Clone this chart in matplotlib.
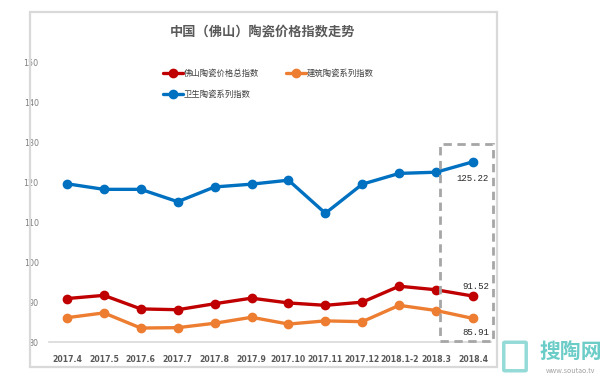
import numpy as np
import matplotlib
matplotlib.use('Agg')
import matplotlib.pyplot as plt
from matplotlib.patches import Rectangle, FancyBboxPatch

plt.rcParams['font.family'] = ['Noto Sans CJK SC', 'DejaVu Sans']

# data
months = ['2017.4', '2017.5', '2017.6', '2017.7', '2017.8', '2017.9',
          '2017.10', '2017.11', '2017.12', '2018.1-2', '2018.3', '2018.4']
total_idx = [90.9, 91.7, 88.3, 88.1, 89.6, 91.0, 89.8, 89.2, 90.0, 94.0, 93.1, 91.52]
build_idx = [86.1, 87.3, 83.5, 83.6, 84.7, 86.2, 84.5, 85.3, 85.1, 89.2, 87.9, 85.91]
sanit_idx = [119.7, 118.3, 118.3, 115.2, 118.9, 119.6, 120.6, 112.3, 119.6, 122.3, 122.6, 125.22]
yticks = [80, 90, 100, 110, 120, 130, 140, 150]

W, H = 613, 379
fig = plt.figure(figsize=(W / 100, H / 100), dpi=100)
fig.patch.set_facecolor('white')

# chart border
fig.patches.append(Rectangle((30 / W, 1 - 367 / H), 467 / W, 355 / H,
                             transform=fig.transFigure, fill=False,
                             edgecolor='#D9D9D9', lw=1.6))

ax = fig.add_axes([48.5 / W, 1 - 342 / H, 443 / W, 279 / H])
x = np.arange(len(months))
lines = {}
series = [('total', total_idx, '#C00000', '佛山陶瓷价格总指数'),
          ('build', build_idx, '#ED7D31', '建筑陶瓷系列指数'),
          ('sanit', sanit_idx, '#0070C0', '卫生陶瓷系列指数')]
for key, vals, col, lab in series:
    lines[key], = ax.plot(x, vals, color=col, lw=2.4, marker='o', ms=6, label=lab,
                          solid_capstyle='round')

ax.set_xlim(-0.5, len(months) - 0.5)
ax.set_ylim(80, 150)
ax.set_yticks(yticks)
ax.set_xticks(x)
narrow = ['Liberation Sans Narrow', 'DejaVu Sans']
ax.set_xticklabels(months, fontsize=5.6, fontweight='bold', color='#595959', family=narrow)
ax.set_yticklabels([str(v) for v in yticks], fontsize=5.8, color='#808080', family=narrow)
ax.tick_params(length=0)
ax.tick_params(axis='x', pad=9)
ax.tick_params(axis='y', pad=7)
for s in ['top', 'right', 'left']:
    ax.spines[s].set_visible(False)
ax.spines['bottom'].set_color('#D9D9D9')
ax.spines['bottom'].set_linewidth(1.2)

# value labels for the last month
lab_font = dict(fontsize=6.5, color='#262626', family=['Liberation Mono', 'DejaVu Sans Mono'])
ax.annotate('125.22', (11, sanit_idx[-1]), xytext=(11, -12), textcoords='offset points',
            ha='right', va='center', **lab_font)
ax.annotate('91.52', (11, total_idx[-1]), xytext=(12, 7), textcoords='offset points',
            ha='right', va='center', **lab_font)
ax.annotate('85.91', (11, build_idx[-1]), xytext=(12, -10), textcoords='offset points',
            ha='right', va='center', **lab_font)

# dashed highlight box
ax.add_patch(Rectangle((10.1, 80.2), 1.45, 49.5, fill=False, edgecolor='#A6A6A6',
                       lw=2, ls=(0, (3, 2)), clip_on=False, zorder=5))

order = [lines['total'], lines['sanit'], lines['build']]
leg = ax.legend(handles=order, ncol=2, loc='upper left', bbox_to_anchor=(111 / 443, 0.99),
                frameon=False, fontsize=6, handlelength=2.4, handletextpad=0.1,
                columnspacing=3.2, labelspacing=1.4, borderaxespad=0)
for t in leg.get_texts():
    t.set_color('#404040')

fig.text(263 / W, 1 - 32 / H, '中国（佛山）陶瓷价格指数走势', ha='center', va='center',
         fontsize=9.5, fontweight='bold', color='#595959')

# watermark
fig.patches.append(FancyBboxPatch((505 / W, 1 - 370 / H), 20 / W, 27 / H,
                                  boxstyle='round,pad=0.002', transform=fig.transFigure,
                                  facecolor='none', edgecolor='#7AD3CE', lw=2.5, alpha=0.8))
fig.text(571 / W, 1 - 351 / H, '搜陶网', ha='center', va='center', fontsize=15,
         fontweight='bold', color='#5CC8C2', alpha=0.9)
fig.text(571 / W, 1 - 371 / H, 'www.soutao.tv', ha='center', va='center', fontsize=5,
         color='#A0A0A0')

fig.savefig('out.png', dpi=100, facecolor='white')
